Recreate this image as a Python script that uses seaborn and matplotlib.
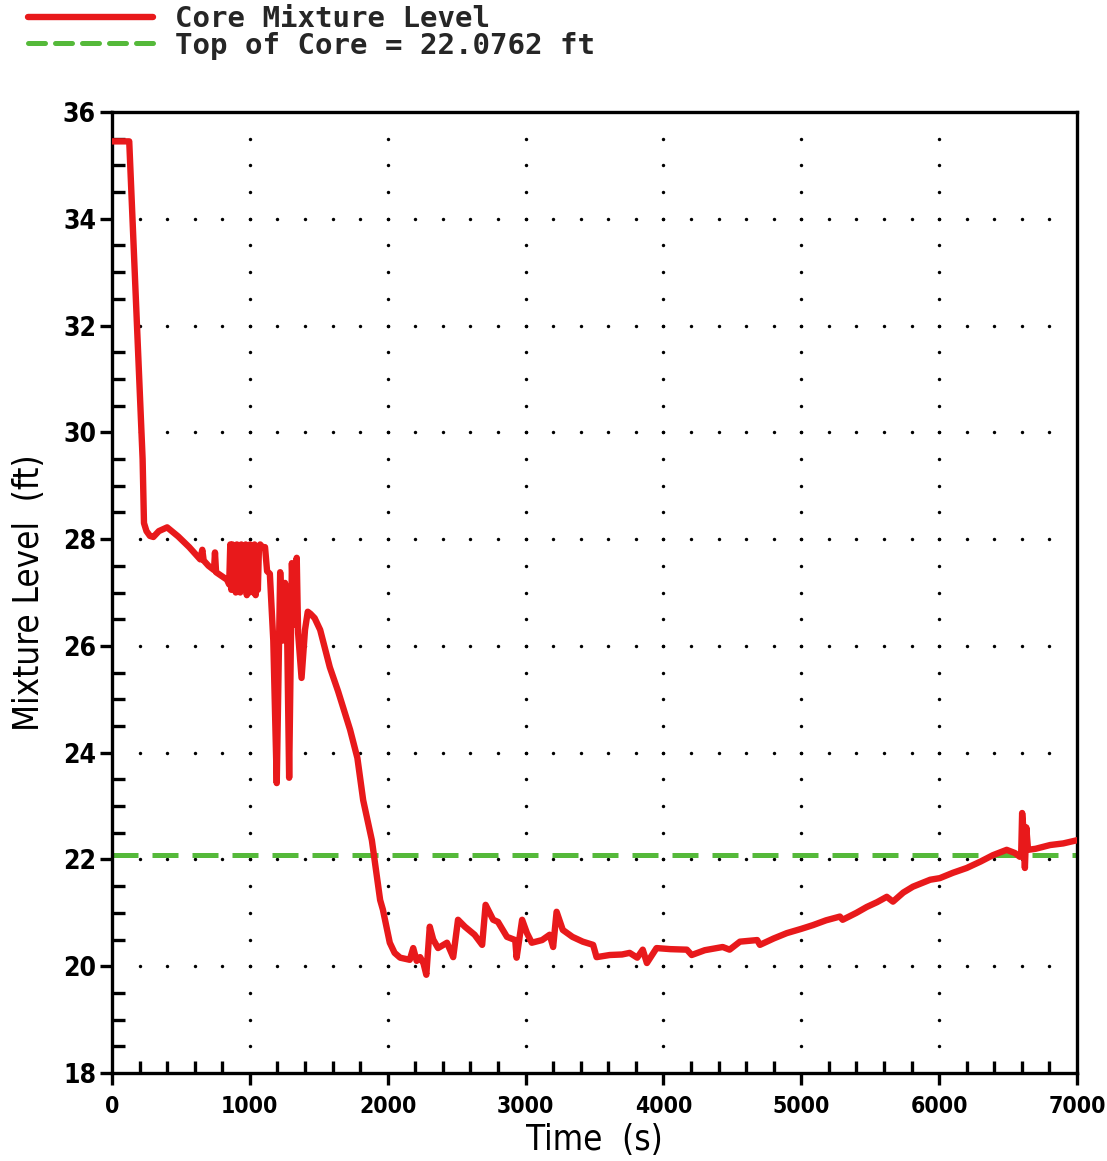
import numpy as np
import pandas as pd
import matplotlib
matplotlib.use("Agg")
import matplotlib.pyplot as plt
from matplotlib.lines import Line2D
from matplotlib.ticker import MultipleLocator
import seaborn as sns

# ---------------- data ----------------
time_s = [
    0, 60, 125, 222, 232, 250, 275, 300, 340, 400, 480, 560, 640, 655, 665, 700,
    740, 747, 755, 800, 834,
    850, 858, 866, 874, 882, 890, 898, 906, 914, 922, 930, 938, 946, 954, 962,
    970, 978, 986, 994, 1002, 1010, 1018, 1026, 1034, 1042, 1050, 1058, 1066,
    1075, 1090, 1110, 1125, 1145, 1160, 1170, 1195, 1220, 1240, 1255, 1270,
    1285, 1305, 1320, 1340, 1350, 1375, 1400, 1420, 1440, 1470, 1510, 1580,
    1640, 1690, 1727, 1780, 1822, 1885, 1945, 1965, 2015, 2050, 2090, 2160,
    2185, 2210, 2235, 2260, 2280, 2305, 2330, 2365, 2430, 2475, 2510, 2560,
    2630, 2685, 2710, 2765, 2800, 2865, 2925, 2935, 2975, 3010, 3045, 3120,
    3175, 3200, 3225, 3270, 3340, 3415, 3490, 3515, 3610, 3700, 3755, 3810,
    3850, 3880, 3950, 4050, 4170, 4205, 4300, 4430, 4480, 4555, 4680, 4700,
    4800, 4895, 5000, 5085, 5180, 5280, 5300, 5400, 5475, 5550, 5620, 5665,
    5740, 5810, 5935, 6005, 6100, 6200, 6300, 6390, 6490, 6550, 6585, 6595,
    6602, 6612, 6622, 6632, 6645, 6700, 6805, 6900, 7000,
]
mixture_level_ft = [
    35.45, 35.45, 35.45, 29.5, 28.3, 28.15, 28.06, 28.04, 28.15, 28.22, 28.05,
    27.85, 27.62, 27.8, 27.6, 27.5, 27.42, 27.75, 27.38, 27.3, 27.24,
    27.15, 27.9, 27.05, 27.9, 27.1, 27.85, 27.0, 27.9, 27.05, 27.85, 27.0,
    27.9, 27.05, 27.85, 27.1, 27.9, 26.95, 27.85, 27.0, 27.9, 27.05, 27.85,
    27.0, 27.9, 26.95, 27.85, 27.05, 27.85,
    27.9, 27.85, 27.85, 27.4, 27.35, 26.6, 26.1, 23.43, 27.38, 26.1, 27.18,
    26.3, 23.53, 27.55, 26.4, 27.65, 26.24, 25.4, 26.3, 26.64, 26.6, 26.52,
    26.3, 25.6, 25.15, 24.74, 24.43, 23.9, 23.11, 22.36, 21.24, 21.06, 20.44,
    20.25, 20.16, 20.12, 20.34, 20.1, 20.17, 20.05, 19.84, 20.74, 20.5, 20.34,
    20.44, 20.17, 20.87, 20.74, 20.59, 20.4, 21.15, 20.87, 20.83, 20.55, 20.49,
    20.16, 20.87, 20.62, 20.44, 20.49, 20.59, 20.36, 21.02, 20.68, 20.55,
    20.46, 20.4, 20.17, 20.21, 20.22, 20.25, 20.16, 20.31, 20.06, 20.34, 20.32,
    20.31, 20.21, 20.3, 20.36, 20.31, 20.46, 20.49, 20.40, 20.52, 20.62, 20.7,
    20.77, 20.86, 20.93, 20.87, 21.0, 21.11, 21.2, 21.30, 21.21, 21.38, 21.49,
    21.62, 21.65, 21.75, 21.84, 21.96, 22.08, 22.18, 22.12, 22.05, 22.1, 22.87,
    22.55, 21.84, 22.6, 22.18, 22.2, 22.27, 22.3, 22.36,
]
top_of_core_ft = 22.0762
legend_labels = ["Core Mixture Level", "Top of Core = 22.0762 ft"]
x_label = "Time  (s)"
y_label = "Mixture Level  (ft)"
x_ticks = [0, 1000, 2000, 3000, 4000, 5000, 6000, 7000]
y_ticks = [18, 20, 22, 24, 26, 28, 30, 32, 34, 36]

df = pd.DataFrame({"time": time_s, "level": mixture_level_ft})

# ---------------- styling ----------------
sns.set_theme(style="white")
plt.rcParams["font.family"] = ["DejaVu Sans"]
plt.rcParams["font.stretch"] = "condensed"

RED = "#e8191b"
GREEN = "#55b93a"

fig = plt.figure(figsize=(11.07, 11.61), dpi=100)
ax = fig.add_axes([112 / 1107, 1 - 1073 / 1161, (1077 - 112) / 1107, (1073 - 112) / 1161])

# dotted grid (dots at minor positions along major lines)
xmin_pos = np.arange(200, 7000, 200)
ymin_pos = np.arange(18.5, 36, 0.5)
gx, gy = [], []
for yv in y_ticks[1:-1]:
    gx += list(xmin_pos)
    gy += [yv] * len(xmin_pos)
for xv in x_ticks[1:-1]:
    gx += [xv] * len(ymin_pos)
    gy += list(ymin_pos)
ax.scatter(gx, gy, s=6, color="black", zorder=1, linewidths=0)

sns.lineplot(data=df, x="time", y="level", ax=ax, color=RED, lw=4.6,
             sort=False, estimator=None, zorder=3)
ax.axhline(top_of_core_ft, color=GREEN, lw=3.6, dashes=(5.2, 2.8), zorder=2)

ax.set_xlim(0, 7000)
ax.set_ylim(18, 36)
ax.set_xticks(x_ticks)
ax.set_yticks(y_ticks)
ax.xaxis.set_minor_locator(MultipleLocator(200))
ax.yaxis.set_minor_locator(MultipleLocator(0.5))
ax.tick_params(axis="both", which="both", bottom=True, left=True, top=False,
               right=False)
ax.tick_params(axis="both", which="major", direction="out", length=8.5, width=2.4,
               color="black")
ax.tick_params(axis="both", which="minor", direction="in", length=9, width=2.4,
               color="black")
ax.tick_params(axis="y", which="major", labelsize=19, pad=3)
ax.tick_params(axis="x", which="major", labelsize=16.5, pad=7)
for lab in ax.get_xticklabels() + ax.get_yticklabels():
    lab.set_fontweight("bold")
    lab.set_fontstretch("condensed")
    lab.set_color("black")
for sp in ax.spines.values():
    sp.set_color("black")
    sp.set_linewidth(2.4)
    sp.set_visible(True)

ax.set_xlabel(x_label, fontsize=25, labelpad=4, color="black",
              fontstretch="condensed")
ax.set_ylabel(y_label, fontsize=25, labelpad=12, color="black",
              fontstretch="condensed")

if ax.get_legend() is not None:
    ax.get_legend().remove()

handles = [Line2D([], [], color=RED, lw=4.6, solid_capstyle="round"),
           Line2D([], [], color=GREEN, lw=3.6, dashes=(3.4, 2.0),
                  dash_capstyle="round")]
fig.legend(handles, legend_labels, loc="upper left",
           bbox_to_anchor=(28 / 1107, 1 - 5 / 1161), frameon=False,
           prop={"family": "DejaVu Sans Mono", "weight": "bold", "size": 21},
           handlelength=4.3, handletextpad=0.75, labelspacing=-0.05,
           borderpad=0, borderaxespad=0)

fig.savefig("out.png", dpi=100, facecolor="white")
